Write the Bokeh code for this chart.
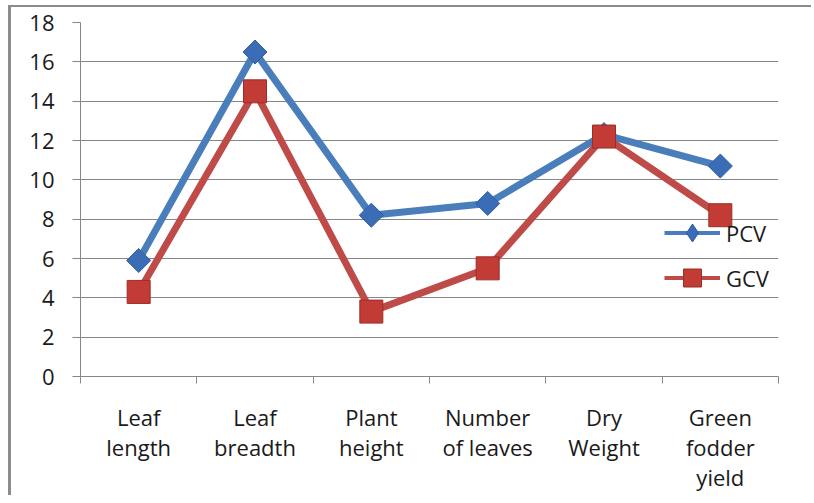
import math
from bokeh.plotting import figure
from bokeh.models import (Range1d, FixedTicker, Legend, LegendItem)
from bokeh.embed import file_html
from bokeh.resources import INLINE

categories = ["Leaf\nlength", "Leaf\nbreadth", "Plant\nheight", "Number\nof leaves", "Dry\nWeight", "Green\nfodder\nyield"]
pcv = [5.9, 16.5, 8.2, 8.8, 12.3, 10.7]
gcv = [4.3, 14.5, 3.3, 5.5, 12.2, 8.2]
y_ticks = [0, 2, 4, 6, 8, 10, 12, 14, 16, 18]

xs = [i + 0.5 for i in range(len(categories))]

FONT = "Open Sans"
PCV_LINE = "#4a7ebb"
PCV_MARK = "#3a6db5"
GCV_LINE = "#be4b48"
GCV_MARK = "#c23b35"
AXIS = "#868686"

p = figure(width=803, height=490, output_backend="svg", toolbar_location=None,
           x_range=Range1d(0, len(categories)), y_range=Range1d(0, 18),
           min_border_left=69, min_border_right=36, min_border_top=15,
           min_border_bottom=121)
p.styles = {"border-left": "3px solid #8c8c8c", "border-top": "2px solid #8c8c8c",
            "margin-left": "8px", "margin-top": "5px"}
p.outline_line_color = None
p.background_fill_color = "white"
p.border_fill_color = "white"

# x axis: labels at category centers, ticks at boundaries (minor ticks)
p.xaxis.ticker = FixedTicker(ticks=xs, minor_ticks=list(range(len(categories) + 1)))
p.xaxis.major_label_overrides = {x: c for x, c in zip(xs, categories)}
p.xaxis.major_tick_out = 0
p.xaxis.major_tick_in = 0
p.xaxis.minor_tick_out = 7
p.xaxis.minor_tick_in = 0
p.xaxis.minor_tick_line_color = AXIS
p.xaxis.axis_line_color = AXIS
p.xaxis.major_label_text_font = FONT
p.xaxis.major_label_text_font_size = "22px"
p.xaxis.major_label_text_color = "#1a1a1a"
p.xaxis.major_label_text_line_height = 1.0
p.xaxis.major_label_standoff = 18
p.xaxis.major_label_orientation = "horizontal"

p.yaxis.ticker = FixedTicker(ticks=y_ticks)
p.yaxis.minor_tick_line_color = None
p.yaxis.major_tick_out = 8
p.yaxis.major_tick_in = 0
p.yaxis.major_tick_line_color = AXIS
p.yaxis.axis_line_color = AXIS
p.yaxis.major_label_text_font = FONT
p.yaxis.major_label_text_font_size = "22px"
p.yaxis.major_label_text_color = "#1a1a1a"
p.yaxis.major_label_standoff = 18

p.xgrid.grid_line_color = None
p.ygrid.ticker = FixedTicker(ticks=y_ticks[1:])
p.ygrid.grid_line_color = AXIS
p.ygrid.grid_line_width = 1

# series
p.line(xs, pcv, line_color=PCV_LINE, line_width=7, line_join="round")
p.scatter(xs, pcv, marker="square", angle=math.pi / 4, size=17,
          fill_color=PCV_MARK, line_color="#2f5f9e", line_width=1)
p.line(xs, gcv, line_color=GCV_LINE, line_width=7, line_join="round")
p.scatter(xs, gcv, marker="square", size=23,
          fill_color=GCV_MARK, line_color="#9a2e2a", line_width=1)

# legend-only renderers (hidden in the plot)
lp = p.line(xs, pcv, line_color=PCV_LINE, line_width=4, visible=False)
mp = p.scatter(xs, pcv, marker="diamond",
               fill_color=PCV_MARK, line_color="#2f5f9e", visible=False)
lg = p.line(xs, gcv, line_color=GCV_LINE, line_width=4, visible=False)
mg = p.scatter(xs, gcv, marker="square",
               fill_color=GCV_MARK, line_color="#9a2e2a", visible=False)

legend = Legend(items=[LegendItem(label="PCV", renderers=[lp, mp]),
                       LegendItem(label="GCV", renderers=[lg, mg])],
                location=(584, 76))
legend.background_fill_alpha = 0
legend.border_line_color = None
legend.inactive_fill_alpha = 0
legend.padding = 0
legend.margin = 0
legend.spacing = 0
legend.glyph_width = 56
legend.glyph_height = 45
legend.label_height = 45
legend.label_standoff = 6
legend.label_text_font = FONT
legend.label_text_font_size = "22px"
legend.label_text_color = "#1a1a1a"
legend.click_policy = "none"
p.add_layout(legend, "center")

open("out.html", "w").write(file_html(p, INLINE))
